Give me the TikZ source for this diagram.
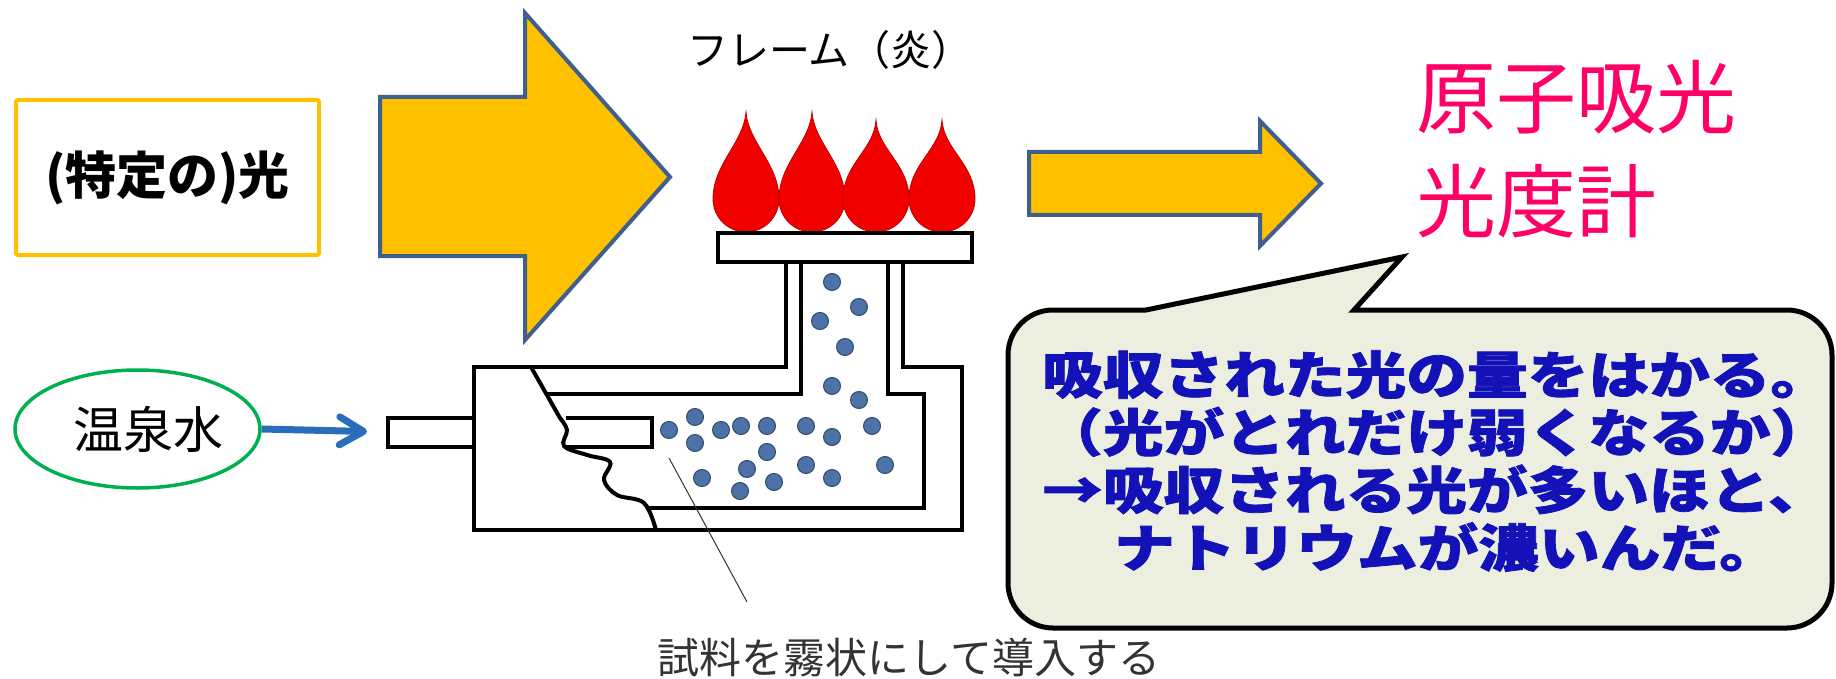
\documentclass[tikz,border=0pt]{standalone}
\usepackage{fontspec}
\usepackage{xcolor}
\usepackage{tikz}
\usetikzlibrary{shapes.geometric, arrows.meta}
\newfontfamily\jpfont{Noto Sans CJK JP}
\newfontfamily\popfont[FakeStretch=1.19, FakeBold=1.5]{Noto Sans CJK JP}
\definecolor{lampyellow}{HTML}{FFC000}
\definecolor{arrowedge}{HTML}{3F5F8C}
\definecolor{flamered}{HTML}{F20000}
\definecolor{mistblue}{HTML}{4D72A8}
\definecolor{spagreen}{HTML}{00B050}
\definecolor{feedblue}{HTML}{2A6EBB}
\definecolor{aaspink}{HTML}{FF0066}
\definecolor{bubblebg}{HTML}{ECEFDF}
\definecolor{bubbletext}{HTML}{1212B8}
\tikzstyle{lampbox} = [rectangle, rounded corners=2pt, draw=lampyellow, line width=4pt, minimum width=303pt, minimum height=155pt, inner sep=0pt, font=\jpfont\bfseries\fontsize{51}{60}\selectfont]
\tikzstyle{blockarrow} = [fill=lampyellow, draw=arrowedge, line width=4pt, line join=miter]
\tikzstyle{wall} = [draw=black, line width=4pt]
\tikzstyle{flame} = [fill=flamered, draw=flamered!80!black, line width=0.8pt]
\tikzstyle{mist} = [circle, fill=mistblue, draw=mistblue!65!black, line width=1pt, minimum size=17pt, inner sep=0pt]
\tikzstyle{spring} = [ellipse, draw=spagreen, line width=3.5pt, minimum width=245pt, minimum height=118pt, inner sep=0pt, font=\jpfont\fontsize{50}{60}\selectfont]
\tikzstyle{feed} = [draw=feedblue, line width=7pt, -{Straight Barb[length=24pt, width=28pt, round]}, shorten >=21pt]
\tikzstyle{aastext} = [anchor=base west, inner sep=0pt, text=aaspink, font=\jpfont\fontsize{80}{103}\selectfont]
\tikzstyle{bubble} = [fill=bubblebg, draw=black, line width=5pt, line join=miter]
\tikzstyle{note} = [anchor=west, inner sep=0pt, align=left, text=bubbletext, font=\popfont\bfseries\fontsize{51}{57.7}\selectfont]

\begin{document}
\begin{tikzpicture}[x=1pt, y=-1pt]
    \useasboundingbox[fill=white] (0,0) rectangle (1836,679);

    % light source and the two block arrows
    \node[lampbox] (lamp) at (167.5,177.5) {(特定の)光};
    \draw[blockarrow] (380,97) -- (525,97) -- (525,13) -- (670,177) -- (525,340) -- (525,256) -- (380,256) -- cycle;
    \draw[blockarrow] (1029,152) -- (1260,152) -- (1260,121) -- (1321,183.5) -- (1260,246) -- (1260,215) -- (1029,215) -- cycle;

    % burner: flames on the plate
    \node[font=\jpfont\fontsize{41}{50}\selectfont] (flamelabel) at (830,50) {フレーム（炎）};
    \foreach \cx/\ty in {746/112, 812/112, 876/120, 942/120}
        \draw[flame] (\cx,\ty) .. controls (\cx+2,\ty+30) and (\cx+33,164) .. (\cx+33,199)
            arc[start angle=0, end angle=180, radius=33]
            .. controls (\cx-33,164) and (\cx-2,\ty+30) .. cycle;
    \draw[wall, fill=white] (718,233) rectangle (972,262);

    % spray chamber, outer and inner walls
    \draw[wall] (786,262) -- (786,367) -- (474,367) -- (474,530) -- (962,530) -- (962,367) -- (903,367) -- (903,262);
    \draw[wall] (801,262) -- (801,394) -- (546,394);
    \draw[wall] (888,262) -- (888,394) -- (924,394) -- (924,508) -- (646,508);
    \draw[wall] (531,367) -- plot[smooth, tension=0.6] coordinates {(560,418) (567,430) (564,446) (587,455) (610,462) (604,480) (617,495) (644,503) (656,530)};
    % nebulizer tube
    \draw[wall] (474,418) -- (388,418) -- (388,447) -- (474,447);
    \draw[wall] (566,418) -- (652,418) -- (652,447) -- (564,447);
    \coordinate (inlet) at (388,432);

    % droplets
    \foreach \px/\py [count=\i] in {832/282, 859/307, 820/321, 845/347, 832/386, 859/400,
        669/430, 695/417, 695/443, 721/430, 741/426, 767/426, 806/426, 832/437, 872/426,
        767/452, 747/469, 806/465, 832/478, 885/465, 702/478, 740/491, 774/482}
        \node[mist] (drop\i) at (\px,\py) {};

    % sample inlet
    \node[spring] (spring) at (137.5,429) {\hspace*{22pt}温泉水};
    \draw[feed] (spring.east) -- (inlet);

    \coordinate (mist) at (669,458);
    \coordinate (leadend) at (747,602);
    \draw[line width=1pt, draw=black!80] (mist) -- (leadend);
    \node[font=\jpfont\fontsize{42}{50}\selectfont, text=black!80] (caption) at (909,658) {試料を霧状にして導入する};

    % instrument name
    \node[aastext] (aas) at (1416,128) {原子吸光};
    \node[aastext] (aas2) at (1416,231) {光度計};

    % speech bubble
    \draw[bubble] (1008,470) [rounded corners=45pt] -- (1008,310) [sharp corners] -- (1146,310) -- (1402,257) -- (1354,310) [rounded corners=45pt] -- (1832,310) -- (1832,628) -- (1008,628) -- cycle;
    \node[note] (note) at (1042,461) {吸収された光の量をはかる。\\（光がとれだけ弱くなるか）\\→吸収される光が多いほと、\\\hspace*{72pt}ナトリウムが濃いんだ。};
\end{tikzpicture}
\end{document}
